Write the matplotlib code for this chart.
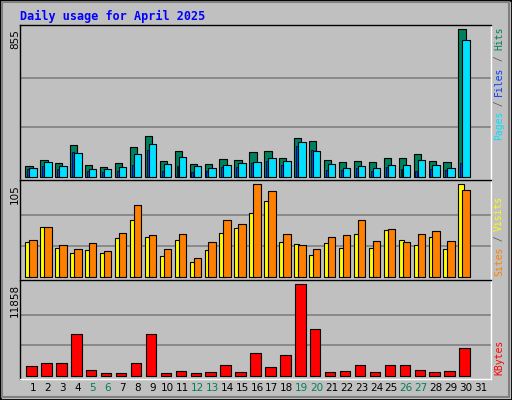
import matplotlib
matplotlib.use("Agg")
import matplotlib.pyplot as plt
from matplotlib.patches import Rectangle
import numpy as np

W, H = 512, 400

days = list(range(1, 32))
weekends = [5, 6, 12, 13, 19, 20, 26, 27]

hits = [62, 97, 77, 184, 68, 56, 79, 172, 236, 91, 149, 73, 73, 102, 97,
        143, 149, 108, 224, 207, 97, 85, 91, 85, 108, 108, 132, 91, 85, 855, 0]
files = [50, 85, 62, 137, 44, 44, 56, 132, 190, 73, 114, 62, 50, 68, 79,
         85, 108, 91, 201, 149, 73, 50, 62, 50, 68, 68, 97, 68, 50, 793, 0]
pages = [44, 62, 44, 143, 33, 27, 33, 68, 155, 33, 62, 27, 33, 56, 56,
         79, 91, 68, 178, 155, 39, 39, 50, 33, 56, 44, 33, 44, 39, 79, 0]
visits = [42, 57, 36, 32, 38, 29, 50, 82, 47, 31, 48, 21, 39, 64, 60,
          105, 97, 49, 36, 31, 45, 47, 64, 41, 54, 40, 48, 52, 41, 99, 0]
sites = [40, 56, 33, 27, 30, 27, 44, 65, 45, 24, 42, 17, 30, 50, 55,
         72, 86, 39, 37, 25, 38, 33, 49, 33, 53, 42, 36, 45, 31, 105, 0]
kbytes = [1212, 1602, 1602, 5369, 693, 303, 303, 1602, 5369, 303, 563, 303,
          433, 1342, 433, 2901, 1082, 2641, 11858, 6018, 433, 563, 1342, 433,
          1342, 1342, 693, 433, 563, 3550, 0]

BG = "#C0C0C0"
C_HITS, C_FILES, C_PAGES = "#00805C", "#0040FF", "#00E0FF"
C_SITES, C_VISITS, C_KB = "#FFFF00", "#FF8000", "#FF0000"

fig = plt.figure(figsize=(W / 100, H / 100), dpi=100, facecolor=BG)
mono = "DejaVu Sans Mono"


def px_axes(x0, y0, x1, y1):
    return fig.add_axes([x0 / W, 1 - y1 / H, (x1 - x0) / W, (y1 - y0) / H])


def setup(ax, ylo, yhi, vmax):
    ax.set_facecolor(BG)
    ax.set_xlim(0.13, 31.67)
    ax.set_ylim(ylo, yhi)
    ax.set_xticks([])
    ax.set_yticks([])
    for y in (vmax / 3, vmax * 2 / 3):
        ax.axhline(y, color="#808080", lw=1.2, zorder=0)
    for s in ax.spines.values():
        s.set_color("black")
        s.set_linewidth(1)
    ax.spines["bottom"].set_color("white")
    ax.spines["right"].set_color("white")


def bars(ax, offset, values, width, color, lw=0.8, z=2):
    d = np.array(days, dtype=float)
    v = np.array(values, dtype=float)
    m = v > 0
    ax.bar(d[m] + offset, v[m], width=width, color=color, edgecolor="black",
           linewidth=lw, align="edge", zorder=z)


# top panel: hits / files / pages
ax1 = px_axes(20, 25, 491, 180)
setup(ax1, -20, 878, 855)
bars(ax1, -0.515, hits, 0.49, C_HITS)
bars(ax1, -0.39, pages, 0.13, C_FILES, lw=0.5)
bars(ax1, -0.25, files, 0.5, C_PAGES, z=3)

# middle panel: sites / visits
ax2 = px_axes(20, 180, 491, 280)
setup(ax2, -3.75, 109.9, 105)
bars(ax2, -0.515, sites, 0.35, C_SITES)
bars(ax2, -0.25, visits, 0.5, C_VISITS, z=3)

# bottom panel: kbytes
ax3 = px_axes(20, 280, 491, 379)
setup(ax3, -428, 12416, 11858)
bars(ax3, -0.45, kbytes, 0.7, C_KB)

# day labels
for day in days:
    col = C_HITS if day in weekends else "black"
    fig.text((33 + (day - 1) * 14.93) / W, 1 - 388 / H, str(day),
             ha="center", va="center", fontsize=7.5, color=col)

# title
fig.text(20 / W, 1 - 16 / H, "Daily usage for April 2025", fontsize=8.5,
         family=mono, weight="bold", color="#0000FF", va="center")

# left max labels
for ytop, label in [(29, "855"), (184, "105"), (284, "11858")]:
    fig.text(15 / W, 1 - ytop / H, label, rotation=90, ha="center",
             va="top", fontsize=7.5)


def vert_label(x, ytop, parts, step=5.6):
    # text reads bottom-to-top, so place the last part at the top
    y = ytop
    for txt, col in reversed(parts):
        fig.text(x / W, 1 - y / H, txt, rotation=90, ha="center", va="top",
                 fontsize=7, family=mono, color=col)
        y += len(txt) * step


vert_label(499, 27, [("Pages", C_PAGES), (" / ", "#606060"),
                     ("Files", C_FILES), (" / ", "#606060"), ("Hits", C_HITS)])
vert_label(499, 196, [("Sites", C_VISITS), (" / ", "#606060"),
                      ("Visits", C_SITES)])
vert_label(499, 340, [("KBytes", C_KB)])

# outer border with bevel
fig.patches.append(Rectangle((0, 0), 1, 1, transform=fig.transFigure,
                             fill=False, edgecolor="black", lw=2))
fig.patches.append(Rectangle((2 / W, 3 / H), 1 - 5 / W, 1 - 5 / H,
                             transform=fig.transFigure, fill=False,
                             edgecolor="#808080", lw=1.5))

fig.savefig("out.png", dpi=100, facecolor=BG)
